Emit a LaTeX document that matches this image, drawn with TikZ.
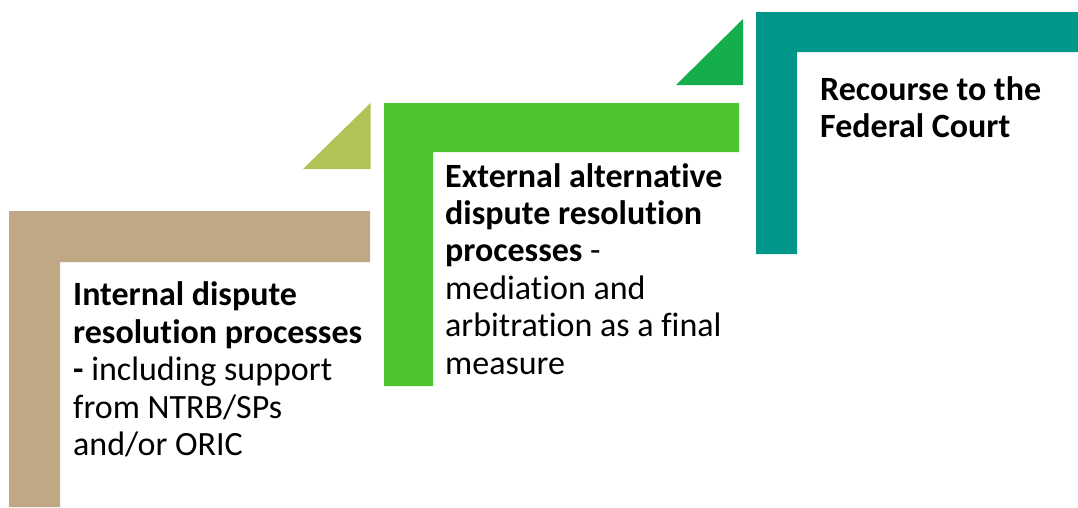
\documentclass[tikz,border=0pt]{standalone}
\usepackage{fontspec}
\setmainfont{Carlito}[Ligatures=NoCommon]
\definecolor{tanc}{RGB}{192,168,135}
\definecolor{olivec}{RGB}{176,196,86}
\definecolor{brightg}{RGB}{78,196,46}
\definecolor{darkg}{RGB}{20,174,76}
\definecolor{tealc}{RGB}{0,150,138}
\tikzset{
  steptext/.style={anchor=base west, align=left, inner sep=0pt, text=black,
    font=\fontsize{34}{37.4}\selectfont}
}
\begin{document}
\begin{tikzpicture}[x=1pt,y=-1pt]
\useasboundingbox (0,0) rectangle (1078,507);
% tan step
\fill[tanc] (9,211) -- (370,211) -- (370,262) -- (60,262) -- (60,507) -- (9,507) -- cycle;
% olive triangle
\fill[olivec] (303,169) -- (370.5,169) -- (370.5,103) -- cycle;
% green step
\fill[brightg] (384,103) -- (739,103) -- (739,152) -- (433,152) -- (433,386) -- (384,386) -- cycle;
% dark green triangle
\fill[darkg] (676,85) -- (743,85) -- (743,19) -- cycle;
% teal step
\fill[tealc] (756,12) -- (1078,12) -- (1078,52) -- (797,52) -- (797,254) -- (756,254) -- cycle;
% texts (anchored at the baseline of the last line)
\node[steptext] (t1) at (73,455.5) {\textbf{Internal dispute}\\\textbf{resolution processes}\\\textbf{-} including support\\from NTRB/SPs\\and/or ORIC};
\node[steptext] (t2) at (445,374) {\textbf{External alternative}\\\textbf{dispute resolution}\\\textbf{processes} -\\mediation and\\arbitration as a final\\measure};
\node[steptext] (t3) at (820,137.5) {\textbf{Recourse to the}\\\textbf{Federal Court}};
\end{tikzpicture}
\end{document}
